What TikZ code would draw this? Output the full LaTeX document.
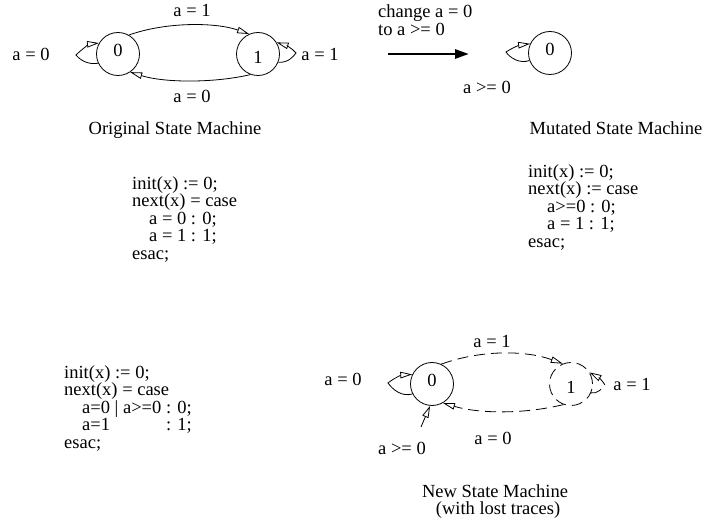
\documentclass[tikz,border=0pt]{standalone}
\usepackage{fontspec}
\setmainfont{Liberation Serif}
\usetikzlibrary{arrows.meta}

\begin{document}
\begin{tikzpicture}[x=1pt,y=-1pt,
  every node/.style={font=\fontsize{18.5}{17.5}\selectfont, inner sep=0pt,
                     text height=0.7em, text depth=0.2em},
  state/.style={circle, draw, line width=0.8pt, minimum size=43pt},
  dstate/.style={state, dash pattern=on 11pt off 6pt},
  edge/.style={line width=0.8pt, -{Triangle[open,length=12pt,width=6.5pt]}},
  dedge/.style={edge, dash pattern=on 11pt off 6pt},
  bigarrow/.style={line width=2.8pt, -{Triangle[length=14pt,width=9pt]}},
  codeline/.style={anchor=west},
]
\useasboundingbox (0,0) rectangle (713,521);

% ---------- original state machine ----------
\node[state] (s0) at (118,54) {0};
\node[state] (s1) at (258,54) {};
\node (s1t) at (258,61) {1};

\draw[edge] (s0.60) .. controls (165,22) and (215,22) .. (s1.114);
\draw[edge] (s1.250) .. controls (215,83) and (165,83) .. (s0.304);
\draw[edge] (s0.205) .. controls (88,65) and (80,60) .. (76,55)
                     .. controls (82,49) and (90,44) .. (s0.150);
\draw[edge] (s1.-22) .. controls (288,63) and (293,57) .. (296,53)
                     .. controls (292,48) and (285,45) .. (s1.32);

\node (o01) at (192,14) {a = 1};
\node (o10) at (192,100) {a = 0};
\node (o00) at (31,58) {a = 0};
\node (o11) at (320,58) {a = 1};
\node (otitle) at (175,132) {Original State Machine};

% ---------- mutation arrow ----------
\node[anchor=west] (chg1) at (378,15) {change a = 0};
\node[anchor=west] (chg2) at (378,33) {to a >= 0};
\coordinate (arrA) at (388,54);
\coordinate (arrB) at (469,54);
\draw[bigarrow] (arrA) -- (arrB);

% ---------- mutated state machine ----------
\node[state] (m0) at (550,53) {0};
\draw[edge] (m0.200) .. controls (520,64) and (510,58) .. (506,52)
                     .. controls (512,48) and (520,45) .. (m0.155);
\node (m00) at (487,91) {a >= 0};
\node (mtitle) at (616,132) {Mutated State Machine};

% ---------- code of the original machine ----------
\node[codeline] (oc1) at (132,187) {init(x) := 0;};
\node[codeline] (oc2) at (132,204.5) {next(x) = case};
\node[codeline] (oc3) at (149,222) {a = 0 : 0;};
\node[codeline] (oc4) at (149,239.5) {a = 1 : 1;};
\node[codeline] (oc5) at (132,257) {esac;};

% ---------- code of the mutated machine ----------
\node[codeline] (mc1) at (528,175) {init(x) := 0;};
\node[codeline] (mc2) at (528,192.5) {next(x) := case};
\node[codeline] (mc3) at (547,210) {a>=0 : 0;};
\node[codeline] (mc4) at (547,227.5) {a = 1 : 1;};
\node[codeline] (mc5) at (528,245) {esac;};

% ---------- code of the new machine ----------
\node[codeline] (nc1) at (64,376) {init(x) := 0;};
\node[codeline] (nc2) at (64,393.5) {next(x) = case};
\node[codeline] (nc3) at (82,411) {a=0 | a>=0 : 0;};
\node[codeline] (nc4) at (82,428.5) {\rlap{a=1}\phantom{a=0 | a>=0 }: 1;};
\node[codeline] (nc5) at (64,446) {esac;};

% ---------- new state machine ----------
\node[state] (n0) at (432,384) {0};
\node[dstate] (n1) at (571,384) {};
\node (n1t) at (571,391) {1};

\draw[dedge] (n0.65) .. controls (480,350) and (525,350) .. (n1.112);
\draw[dedge] (n1.250) .. controls (525,414) and (480,414) .. (n0.300);
\draw[edge] (n0.207) .. controls (402,397) and (393,390) .. (388,383)
                     .. controls (394,378) and (402,375) .. (n0.154);
\draw[dedge] (n1.-24) .. controls (597,394) and (602,389) .. (605,385)
                      .. controls (602,380) and (598,377) .. (n1.32);
\coordinate (nin) at (421,427);
\draw[edge] (nin) -- (n0.265);

\node (n01) at (492,345) {a = 1};
\node (n10) at (493,442) {a = 0};
\node (n00) at (343,383) {a = 0};
\node (n11) at (632,388) {a = 1};
\node (nin0) at (402,452) {a >= 0};
\node (ntitle1) at (495,495) {New State Machine};
\node (ntitle2) at (498,512) {(with lost traces)};

\end{tikzpicture}
\end{document}
